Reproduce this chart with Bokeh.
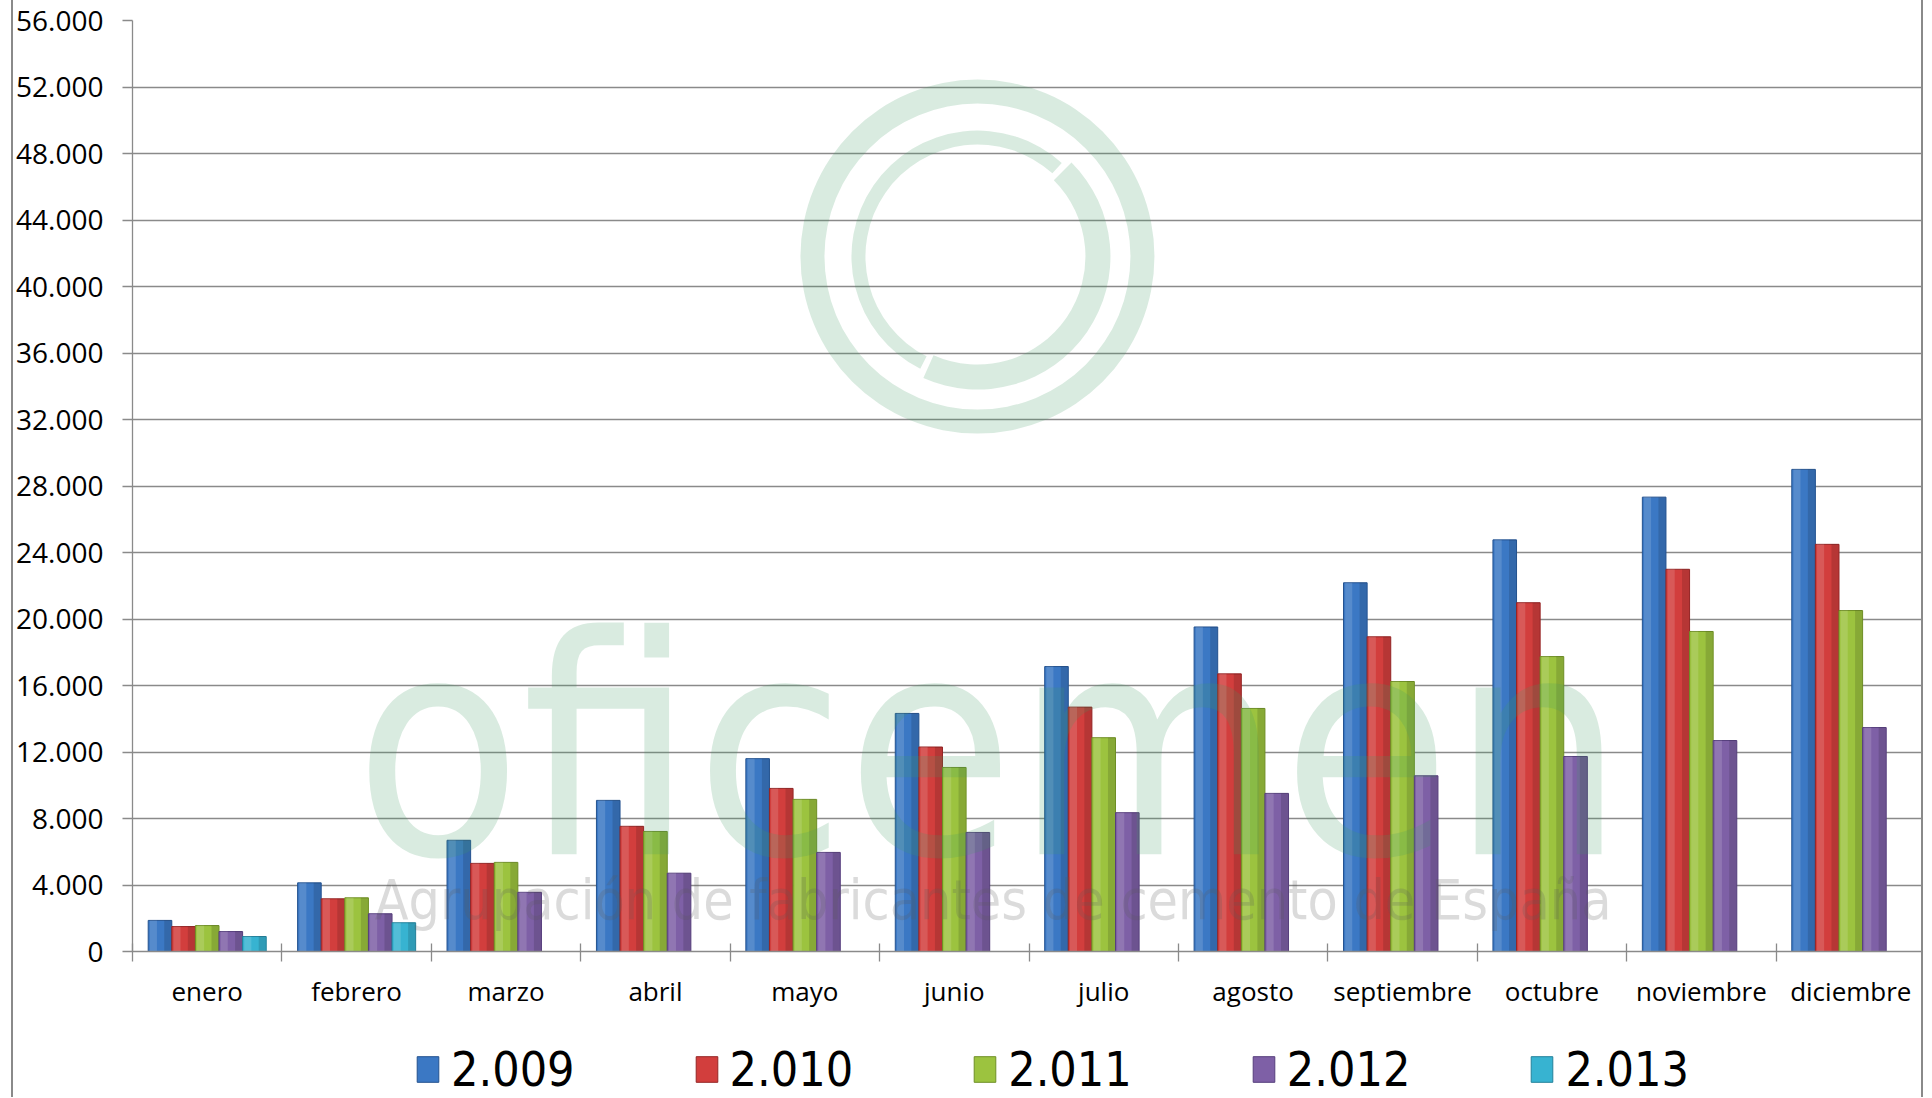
from bokeh.plotting import figure
from bokeh.layouts import column
from bokeh.models import ColumnDataSource, FixedTicker, Legend, LegendItem, Label, Range1d
from bokeh.transform import dodge
from bokeh.embed import file_html
from bokeh.resources import INLINE

months = ["enero", "febrero", "marzo", "abril", "mayo", "junio", "julio",
          "agosto", "septiembre", "octubre", "noviembre", "diciembre"]
years = ["2.009", "2.010", "2.011", "2.012", "2.013"]

v2009 = [1870, 4130, 6690, 9090, 11600, 14320, 17140, 19520, 22180, 24760, 27330, 29000]
v2010 = [1500, 3170, 5300, 7530, 9810, 12300, 14700, 16700, 18930, 20980, 22990, 24490]
v2011 = [1560, 3230, 5360, 7220, 9150, 11070, 12860, 14620, 16240, 17740, 19250, 20510]
v2012 = [1200, 2270, 3560, 4710, 5960, 7160, 8350, 9510, 10570, 11730, 12690, 13470]
v2013 = [900, 1730]

series = [v2009, v2010, v2011, v2012, v2013]

y_ticks = [0, 4000, 8000, 12000, 16000, 20000, 24000, 28000,
           32000, 36000, 40000, 44000, 48000, 52000, 56000]
y_tick_labels = ["0", "4.000", "8.000", "12.000", "16.000", "20.000", "24.000", "28.000",
                 "32.000", "36.000", "40.000", "44.000", "48.000", "52.000", "56.000"]

colors = ["#3b78c4", "#d23e3d", "#9cc33f", "#7e60a6", "#37b3d1"]
edges = ["#24528f", "#942525", "#6f8f26", "#563e7c", "#23819a"]

GRID = "#8a8a8a"
LABEL_FONT = "Open Sans"
NARROW = "DejaVu Sans Condensed"
FIG_STYLES = {"border-left": "2px solid #8a8a8a", "border-right": "2px solid #8a8a8a",
              "margin-left": "11px"}

p = figure(width=1912, height=1030, x_range=Range1d(0, 12), y_range=Range1d(0, 56000),
           output_backend="svg", toolbar_location=None,
           min_border_left=117, min_border_right=0, min_border_top=20, min_border_bottom=79)
p.styles = dict(FIG_STYLES)
p.background_fill_color = "white"
p.border_fill_color = "white"
p.outline_line_color = None

# axes
p.yaxis.ticker = FixedTicker(ticks=y_ticks)
p.yaxis.major_label_overrides = dict(zip(y_ticks, y_tick_labels))
p.yaxis.major_label_text_font = LABEL_FONT
p.yaxis.major_label_text_font_size = "28px"
p.yaxis.major_label_text_color = "black"
p.yaxis.major_tick_out = 10
p.yaxis.major_tick_in = 0
p.yaxis.minor_tick_line_color = None
p.yaxis.major_label_standoff = 19
p.yaxis.axis_line_color = GRID
p.yaxis.axis_line_width = 1.3
p.yaxis.major_tick_line_color = GRID
p.yaxis.major_tick_line_width = 1.3

centers = [i + 0.5 for i in range(len(months))]
bounds = [float(i) for i in range(len(months) + 1)]
p.xaxis.ticker = FixedTicker(ticks=centers, minor_ticks=bounds)
p.xaxis.major_label_overrides = dict(zip(centers, months))
p.xaxis.major_label_text_font = LABEL_FONT
p.xaxis.major_label_text_font_size = "26px"
p.xaxis.major_label_text_color = "black"
p.xaxis.major_tick_out = 0
p.xaxis.major_tick_in = 0
p.xaxis.minor_tick_out = 10
p.xaxis.minor_tick_in = 8
p.xaxis.minor_tick_line_color = GRID
p.xaxis.minor_tick_line_width = 1.3
p.xaxis.major_label_standoff = 11
p.xaxis.axis_line_color = GRID
p.xaxis.axis_line_width = 1.3

p.xgrid.grid_line_color = None
p.ygrid.ticker = FixedTicker(ticks=y_ticks)
p.ygrid.grid_line_color = GRID
p.ygrid.grid_line_width = 1.3

# bars
slot = 0.158
for k, vals in enumerate(series):
    src = ColumnDataSource(dict(x=centers[:len(vals)], top=vals))
    off = (k - 2) * slot
    p.vbar(x=dodge("x", off), top="top", bottom=0, width=slot, source=src,
           fill_color=colors[k], line_color=edges[k], line_width=1)
    p.vbar(x=dodge("x", off - 0.28 * slot), top="top", bottom=0, width=0.3 * slot, source=src,
           fill_color="white", fill_alpha=0.14, line_color=None)
    p.vbar(x=dodge("x", off + 0.33 * slot), top="top", bottom=0, width=0.3 * slot, source=src,
           fill_color="black", fill_alpha=0.13, line_color=None)

# watermark logo
WM_GREEN = "#3f9a63"
p.annulus(x=[5.655], y=[41800], inner_radius=153, outer_radius=177,
          inner_radius_units="screen", outer_radius_units="screen",
          fill_color=WM_GREEN, fill_alpha=0.2, line_color=None)
p.annular_wedge(x=[5.655], y=[41800], inner_radius=112, outer_radius=126,
                inner_radius_units="screen", outer_radius_units="screen",
                start_angle=48, end_angle=243, start_angle_units="deg", end_angle_units="deg",
                fill_color=WM_GREEN, fill_alpha=0.2, line_color=None)
p.annular_wedge(x=[5.655], y=[41800], inner_radius=108, outer_radius=133,
                inner_radius_units="screen", outer_radius_units="screen",
                start_angle=-114, end_angle=45, start_angle_units="deg", end_angle_units="deg",
                fill_color=WM_GREEN, fill_alpha=0.2, line_color=None)

p.add_layout(Label(x=5.735, y=12200, text="oficemen", text_align="center",
                   text_baseline="alphabetic", text_font=NARROW,
                   text_font_size="305px", text_color=WM_GREEN, text_alpha=0.2))
p.add_layout(Label(x=5.76, y=3080, text="Agrupación de fabricantes de cemento de España",
                   text_align="center", text_baseline="alphabetic", text_font=NARROW,
                   text_font_size="55px", text_color="#5a5a5a", text_alpha=0.22))

# legend strip underneath
leg = figure(width=1912, height=67, x_range=Range1d(0, 1), y_range=Range1d(0, 1),
             output_backend="svg", toolbar_location=None,
             x_axis_type=None, y_axis_type=None, min_border=0)
leg.styles = dict(FIG_STYLES)
leg.outline_line_color = None
leg.background_fill_color = "white"
leg.border_fill_color = "white"
leg_renderers = []
for k in range(len(years)):
    # swatch carriers only: their single point lies outside the visible range
    leg_renderers.append(leg.vbar(x=[-5], top=[-5], bottom=[-6], width=0.1,
                                  fill_color=colors[k], line_color=edges[k], line_width=1))

legend = Legend(items=[LegendItem(label=years[k], renderers=[leg_renderers[k]]) for k in range(5)],
                orientation="horizontal", location=(282, 0))
legend.label_text_font = NARROW
legend.label_text_font_size = "48px"
legend.label_text_color = "black"
legend.glyph_width = 27
legend.glyph_height = 32
legend.label_standoff = 10
legend.spacing = 118
legend.border_line_color = None
legend.background_fill_alpha = 0
legend.padding = 0
legend.margin = 0
leg.add_layout(legend, "center")

layout = column(p, leg, spacing=0)
open("out.html", "w").write(file_html(layout, INLINE))
